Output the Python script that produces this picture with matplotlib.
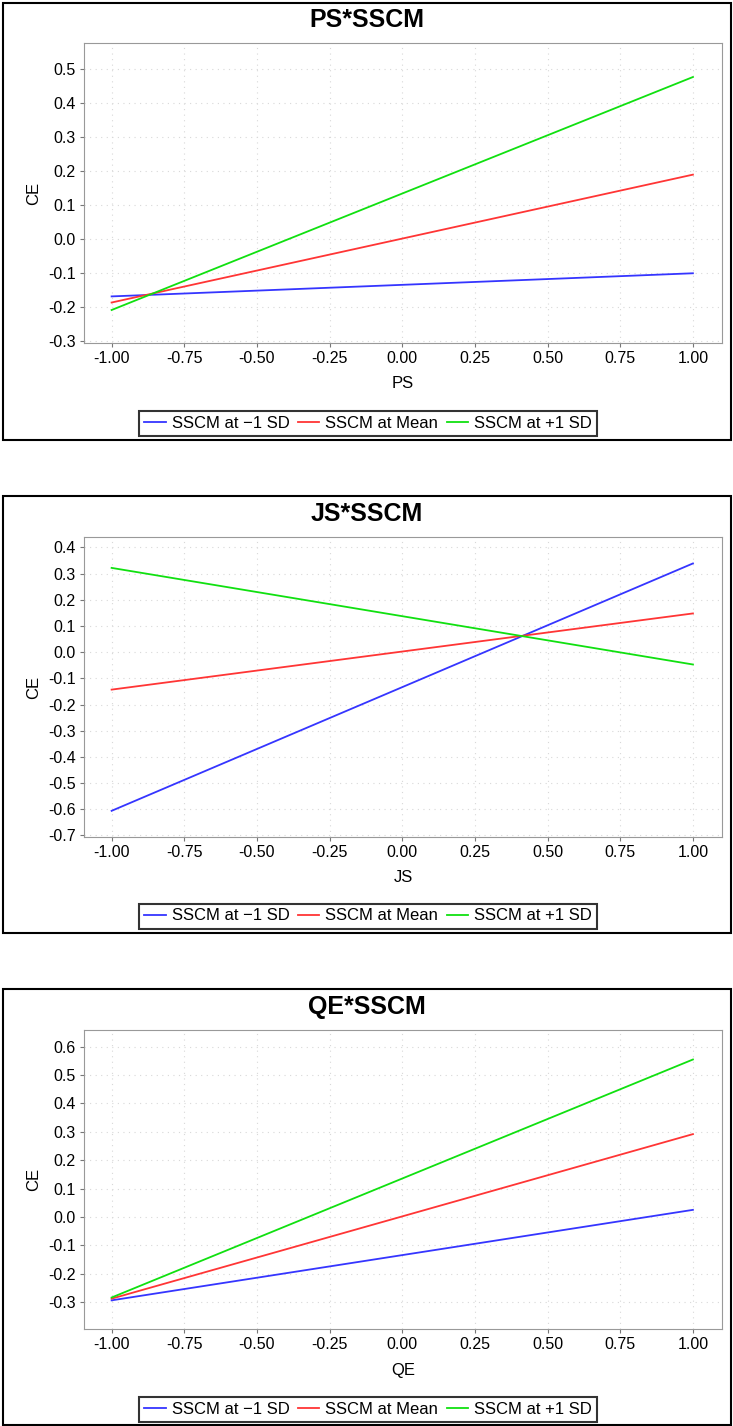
import matplotlib.pyplot as plt
from matplotlib.patches import Rectangle

plt.rcParams['font.family'] = ['Liberation Sans', 'DejaVu Sans']
plt.rcParams['axes.unicode_minus'] = False

x_ends = [-1.0, 1.0]
series_names = ['SSCM at \u22121 SD', 'SSCM at Mean', 'SSCM at +1 SD']
colors = ['#3535ff', '#ff3535', '#10e010']

titles = ['PS*SSCM', 'JS*SSCM', 'QE*SSCM']
xlabels = ['PS', 'JS', 'QE']

# line end values (x = -1, x = 1)
ps_low = [-0.168, -0.100]
ps_mean = [-0.186, 0.190]
ps_high = [-0.208, 0.477]

js_low = [-0.606, 0.339]
js_mean = [-0.143, 0.148]
js_high = [0.322, -0.047]

qe_low = [-0.294, 0.025]
qe_mean = [-0.288, 0.292]
qe_high = [-0.284, 0.555]

panel_data = [
    [ps_low, ps_mean, ps_high],
    [js_low, js_mean, js_high],
    [qe_low, qe_mean, qe_high],
]
ylims = [(-0.305, 0.577), (-0.706, 0.44), (-0.395, 0.659)]
yticks = [
    [-0.3, -0.2, -0.1, 0.0, 0.1, 0.2, 0.3, 0.4, 0.5],
    [-0.7, -0.6, -0.5, -0.4, -0.3, -0.2, -0.1, 0.0, 0.1, 0.2, 0.3, 0.4],
    [-0.3, -0.2, -0.1, 0.0, 0.1, 0.2, 0.3, 0.4, 0.5, 0.6],
]
xticks = [-1.0, -0.75, -0.5, -0.25, 0.0, 0.25, 0.5, 0.75, 1.0]

W, H = 733, 1426
fig = plt.figure(figsize=(W / 100, H / 100), dpi=100)

# layout in pixels: (box_top, box_bottom, title_y, plot_top, plot_bottom, xlabel_y, legend_center_y)
layout = [
    (3, 440, 20, 43, 343, 383, 423),
    (496, 933, 514, 537, 837, 877, 916),
    (989, 1425, 1007, 1030, 1329, 1370, 1409),
]
plot_left, plot_right = 84, 722
box_left, box_right = 3, 731

def fy(py):
    return 1 - py / H

for i in range(3):
    box_top, box_bot, title_y, p_top, p_bot, xl_y, leg_y = layout[i]
    fig.add_artist(Rectangle((box_left / W, fy(box_bot)), (box_right - box_left) / W,
                             (box_bot - box_top) / H, transform=fig.transFigure,
                             fill=False, edgecolor='black', lw=1.5))
    ax = fig.add_axes([plot_left / W, fy(p_bot), (plot_right - plot_left) / W, (p_bot - p_top) / H])
    lines = []
    for vals, c, name in zip(panel_data[i], colors, series_names):
        ln, = ax.plot(x_ends, vals, color=c, lw=1.3, label=name)
        lines.append(ln)
    ax.set_xlim(-1.095, 1.1)
    ax.set_ylim(*ylims[i])
    ax.set_xticks(xticks)
    ax.set_xticklabels(['%.2f' % v for v in xticks])
    ax.set_yticks(yticks[i])
    ax.set_yticklabels(['%.1f' % v for v in yticks[i]])
    ax.tick_params(labelsize=11.5, length=3, color='#777777', pad=3)
    ax.grid(True, color='#d8d8d8', linestyle=(0, (1, 4)), lw=0.8)
    for s in ax.spines.values():
        s.set_color('#999999')
    ax.set_ylabel('CE', fontsize=12, labelpad=5)
    fig.text(0.5 * (plot_left + plot_right) / W, fy(xl_y), xlabels[i], fontsize=12,
             ha='center', va='center')
    fig.text(0.5 * (box_left + box_right) / W, fy(title_y), titles[i], fontsize=18,
             fontweight='bold', ha='center', va='center')
    leg = fig.legend(handles=lines, loc='center', bbox_to_anchor=(368 / W, fy(leg_y)),
                     ncol=3, fontsize=12, frameon=True, fancybox=False, handlelength=1.3,
                     handletextpad=0.35, columnspacing=0.5, borderpad=0.3, borderaxespad=0)
    leg.get_frame().set_edgecolor('black')
    leg.get_frame().set_linewidth(1.5)

fig.savefig('out.png', dpi=100)
